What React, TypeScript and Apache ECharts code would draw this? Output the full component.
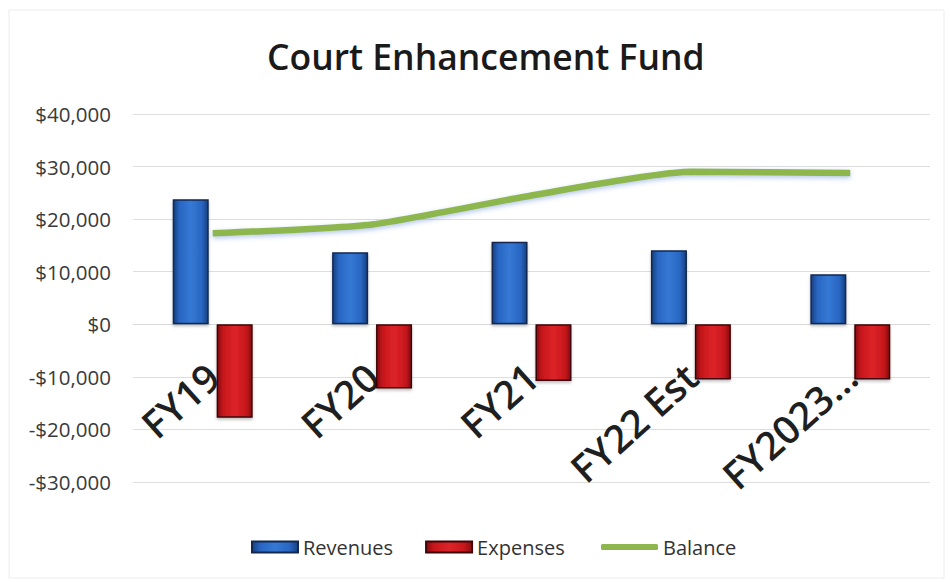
import React, { useEffect, useRef } from "react";
import * as echarts from "echarts";

const categories = ["FY19", "FY20", "FY21", "FY22 Est", "FY2023…"];
const revenues = [23800, 13700, 15700, 14100, 9500];
const expenses = [-17800, -12200, -10800, -10500, -10500];
const balance = [17300, 19000, 24500, 29000, 28800];
const yTicks = { min: -30000, max: 40000, interval: 10000 };

const FONT = "'Open Sans', 'Liberation Sans', sans-serif";

function fmtMoney(v: number): string {
  const abs = Math.abs(v).toLocaleString("en-US");
  return (v < 0 ? "-$" : "$") + abs;
}

export default function App() {
  const ref = useRef<HTMLDivElement>(null);
  useEffect(() => {
    if (!ref.current) return;
    const chart = echarts.init(ref.current, null, { renderer: "svg" });
    const blue = new echarts.graphic.LinearGradient(0, 0, 1, 0, [
      { offset: 0, color: "#173f80" },
      { offset: 0.18, color: "#2866c2" },
      { offset: 0.5, color: "#3579d4" },
      { offset: 0.82, color: "#2866c2" },
      { offset: 1, color: "#173f80" },
    ]);
    const red = new echarts.graphic.LinearGradient(0, 0, 1, 0, [
      { offset: 0, color: "#8a0c10" },
      { offset: 0.18, color: "#c8171c" },
      { offset: 0.5, color: "#dc2429" },
      { offset: 0.82, color: "#c8171c" },
      { offset: 1, color: "#8a0c10" },
    ]);
    const gridTop = 114;
    const gridBottom = 100;
    const plotH = 582 - gridTop - gridBottom;
    const zeroOffset = -(plotH * (0 - yTicks.min)) / (yTicks.max - yTicks.min);
    const legendText = { fontFamily: FONT, fontSize: 20, color: "#333333" };
    chart.setOption({
      animation: false,
      backgroundColor: "#ffffff",
      title: {
        text: "Court Enhancement Fund",
        left: 262,
        top: 33,
        textStyle: {
          fontFamily: FONT,
          fontSize: 35.5,
          fontWeight: 600,
          color: "#1a1a1a",
        },
      },
      legend: [
        {
          top: 532,
          left: 246,
          itemWidth: 46,
          itemHeight: 11,
          itemGap: 32,
          textStyle: legendText,
          data: [
            { name: "Revenues", icon: "rect" },
            { name: "Expenses", icon: "rect" },
          ],
        },
        {
          top: 532,
          left: 596,
          itemWidth: 57,
          itemHeight: 6,
          textStyle: legendText,
          data: [{ name: "Balance", icon: "roundRect" }],
        },
      ],
      grid: {
        left: 133,
        right: 20,
        top: gridTop,
        bottom: gridBottom,
        containLabel: false,
        outerBoundsMode: "none",
      },
      xAxis: {
        type: "category",
        data: categories,
        offset: zeroOffset,
        axisLine: { onZero: false, lineStyle: { color: "#d9d9d9", width: 1 } },
        axisTick: { show: false },
        axisLabel: {
          rotate: 42,
          margin: 46,
          interval: 0,
          fontFamily: FONT,
          fontSize: 39,
          fontWeight: 600,
          color: "#1f1f1f",
        },
      },
      yAxis: {
        type: "value",
        min: yTicks.min,
        max: yTicks.max,
        interval: yTicks.interval,
        axisLine: { show: false },
        axisTick: { show: false },
        splitLine: { lineStyle: { color: "#dedede", width: 1 } },
        axisLabel: {
          formatter: fmtMoney,
          fontFamily: FONT,
          fontSize: 20.5,
          color: "#3a3a3a",
          margin: 22,
        },
      },
      series: [
        {
          name: "Revenues",
          type: "bar",
          data: revenues,
          barWidth: 36,
          barGap: "22%",
          itemStyle: {
            color: blue,
            borderColor: "#12284f",
            borderWidth: 1.5,
            shadowColor: "rgba(0,0,0,0.25)",
            shadowBlur: 3,
            shadowOffsetY: 2,
          },
        },
        {
          name: "Expenses",
          type: "bar",
          data: expenses,
          barWidth: 36,
          itemStyle: {
            color: red,
            borderColor: "#3d0507",
            borderWidth: 1.5,
            shadowColor: "rgba(0,0,0,0.25)",
            shadowBlur: 3,
            shadowOffsetY: 2,
          },
        },
        {
          name: "Balance",
          type: "line",
          data: balance,
          symbol: "none",
          smooth: 0.2,
          z: 5,
          itemStyle: { color: "#8db64e" },
          lineStyle: {
            color: "#8db64e",
            width: 6.5,
            shadowColor: "rgba(90,130,210,0.45)",
            shadowBlur: 5,
            shadowOffsetY: 2,
          },
        },
      ],
      graphic: [
        {
          type: "rect",
          shape: { x: 9, y: 10, width: 935, height: 568 },
          style: { fill: "none", stroke: "#ececec", lineWidth: 1 },
          silent: true,
        },
      ],
    });
    return () => chart.dispose();
  }, []);
  return (
    <div
      ref={ref}
      style={{ position: "fixed", left: 0, top: 0, width: 950, height: 582 }}
    />
  );
}
